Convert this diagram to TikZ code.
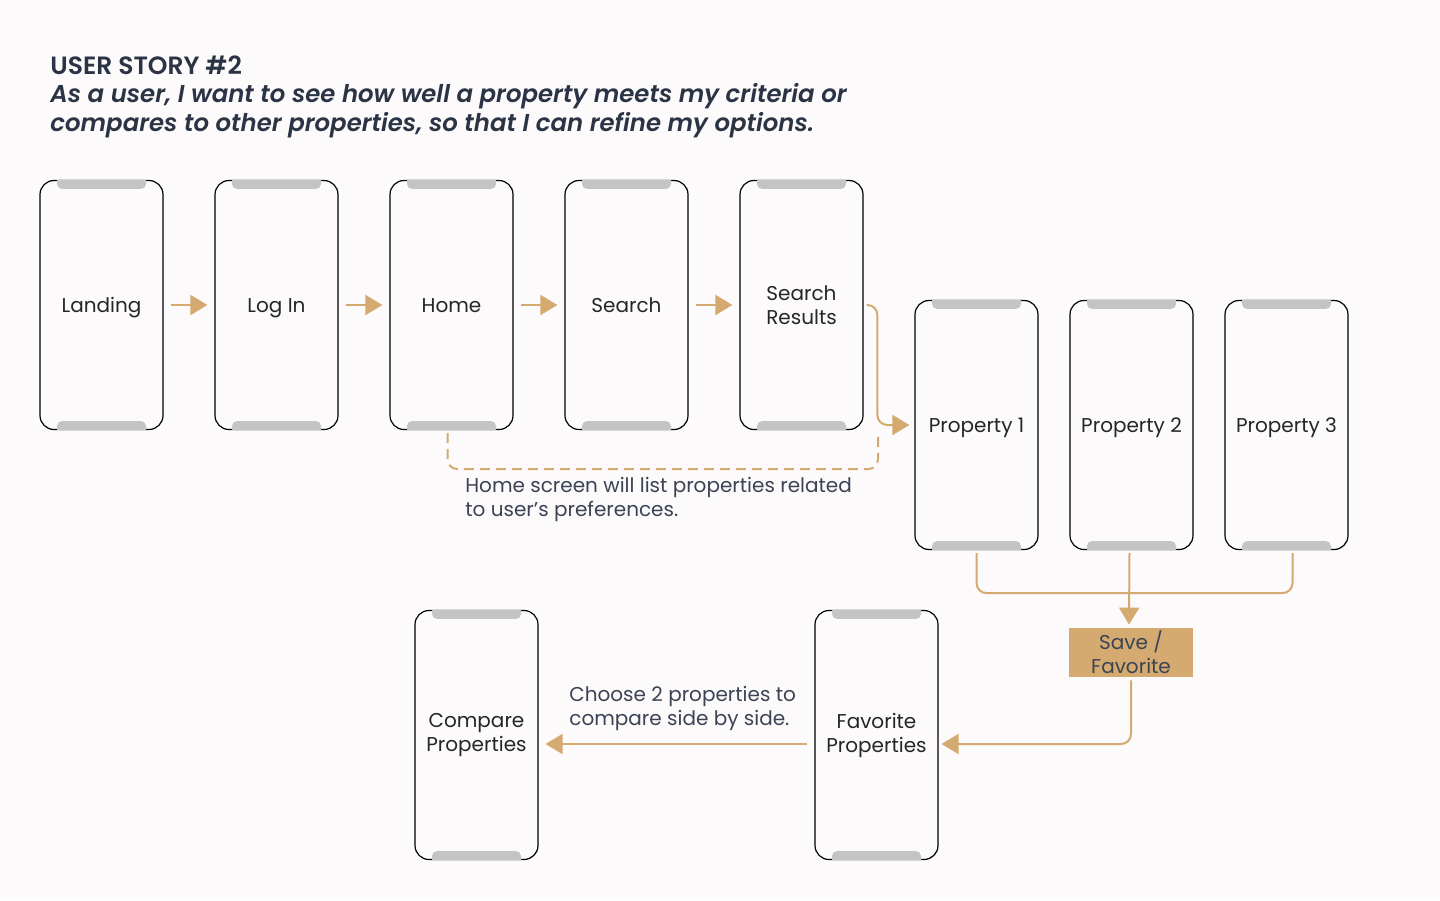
\documentclass[tikz,border=0pt]{standalone}
\usepackage{fontspec}
\setmainfont{Poppins}[BoldFont={* SemiBold}, BoldItalicFont={* SemiBold Italic}]
\usetikzlibrary{arrows.meta,positioning}
\definecolor{bgpaper}{HTML}{FCFAFB}
\definecolor{gold}{HTML}{D4AA70}
\definecolor{barGrey}{HTML}{C4C4C4}
\definecolor{inkDark}{HTML}{2B3445}
\definecolor{inkNote}{HTML}{3B4354}
\definecolor{inkPhone}{HTML}{262626}

\tikzset{
  phone/.style={draw=black, line width=0.6pt, rounded corners=7pt, minimum width=61.5pt,
    minimum height=124.5pt, inner sep=0pt, align=center, text=inkPhone,
    font=\fontsize{10}{12}\selectfont},
  phoneline/.style={phone, execute at begin node={\rule{0pt}{11.4pt}}, execute at end node=\strut},
  bar/.style={fill=barGrey},
  flow/.style={draw=gold, line width=1pt, rounded corners=5pt, -{Triangle[length=8.5pt,width=10pt]}},
  link/.style={draw=gold, line width=1pt, rounded corners=5pt},
  dashlink/.style={link, dash pattern=on 5pt off 3pt},
  note/.style={anchor=west, align=left, inner sep=0pt, text=inkNote, font=\fontsize{10}{12}\selectfont},
}

\begin{document}
\begin{tikzpicture}[x=0.5pt, y=-0.5pt]
  \useasboundingbox (0,0) rectangle (1440,900);
  \fill[bgpaper] (0,0) rectangle (1440,900);

  % heading
  \node[anchor=west, inner sep=0pt, text=inkDark, font=\fontsize{12.5}{14.5}\selectfont\bfseries] (story) at (50,65) {USER STORY \#2};
  \node[anchor=west, align=left, inner sep=0pt, text=inkDark, font=\fontsize{12.2}{14.5}\selectfont\bfseries\itshape] (goal) at (50,111)
    {As a user, I want to see how well a property meets my criteria or\\compares to other properties, so that I can refine my options.};

  % screens
  \node[phoneline] (land)   at (101.5,305) {Landing};
  \node[phoneline] (login)  at (276.5,305) {Log In};
  \node[phoneline] (home)   at (451.5,305) {Home};
  \node[phoneline] (search) at (626.5,305) {Search};
  \node[phone]     (sres)   at (801.5,305) {Search\\Results};

  \node[phoneline] (prop1) at (976.5,425)  {Property 1};
  \node[phoneline] (prop2) at (1131.5,425) {Property 2};
  \node[phoneline] (prop3) at (1286.5,425) {Property 3};

  \node[phone] (comp) at (476.5,735) {Compare\\Properties};
  \node[phone] (fav)  at (876.5,735) {Favorite\\Properties};

  \node[fill=gold, inner sep=0pt, minimum width=62pt, minimum height=24.5pt, align=center,
    text=inkNote, font=\fontsize{10}{12}\selectfont] (save) at (1131,652.5) {Save /\\Favorite};

  % speaker and home bars
  \foreach \p in {land,login,home,search,sres,prop1,prop2,prop3,comp,fav} {
    \fill[bar] ([xshift=-22.25pt]\p.north) -- ++(0pt,-2pt) arc[start angle=180,end angle=270,radius=2.5pt]
      -- ++(39.5pt,0pt) arc[start angle=270,end angle=360,radius=2.5pt] -- ++(0pt,2pt) -- cycle;
    \fill[bar] ([xshift=-22.25pt]\p.south) -- ++(0pt,2pt) arc[start angle=180,end angle=90,radius=2.5pt]
      -- ++(39.5pt,0pt) arc[start angle=90,end angle=0,radius=2.5pt] -- ++(0pt,-2pt) -- cycle;
  }

  % flow
  \foreach \a/\b in {land/login, login/home, home/search, search/sres}
    \draw[flow] ([xshift=3.5pt]\a.east) -- ([xshift=-3.5pt]\b.west);

  \draw[flow] ([xshift=1.5pt]sres.east) -| ([xshift=-18.5pt]prop1.west) -- ([xshift=-2.5pt]prop1.west);

  \coordinate (dashend) at (878,435);
  \draw[dashlink] ([xshift=-2pt,yshift=-1.5pt]home.south) -- ++(0,36) -| (dashend);
  \node[note] (homenote) at (465,499) {Home screen will list properties related\\to user’s preferences.};

  \draw[link] ([yshift=-1.5pt]prop1.south) -- ++(0,40) -| ([xshift=3pt,yshift=-1.5pt]prop3.south);
  \draw[flow] ([xshift=-1pt,yshift=-1.5pt]prop2.south) -- ([xshift=-1pt,yshift=1.5pt]save.north);
  \draw[flow] ([yshift=-1.5pt]save.south) |- ([xshift=1.5pt,yshift=-4.5pt]fav.east);
  \draw[flow] ([xshift=-3.5pt,yshift=-4.5pt]fav.west) -- ([xshift=3.5pt,yshift=-4.5pt]comp.east);
  \node[note] (choosenote) at (569,708) {Choose 2 properties to\\compare side by side.};
\end{tikzpicture}
\end{document}
